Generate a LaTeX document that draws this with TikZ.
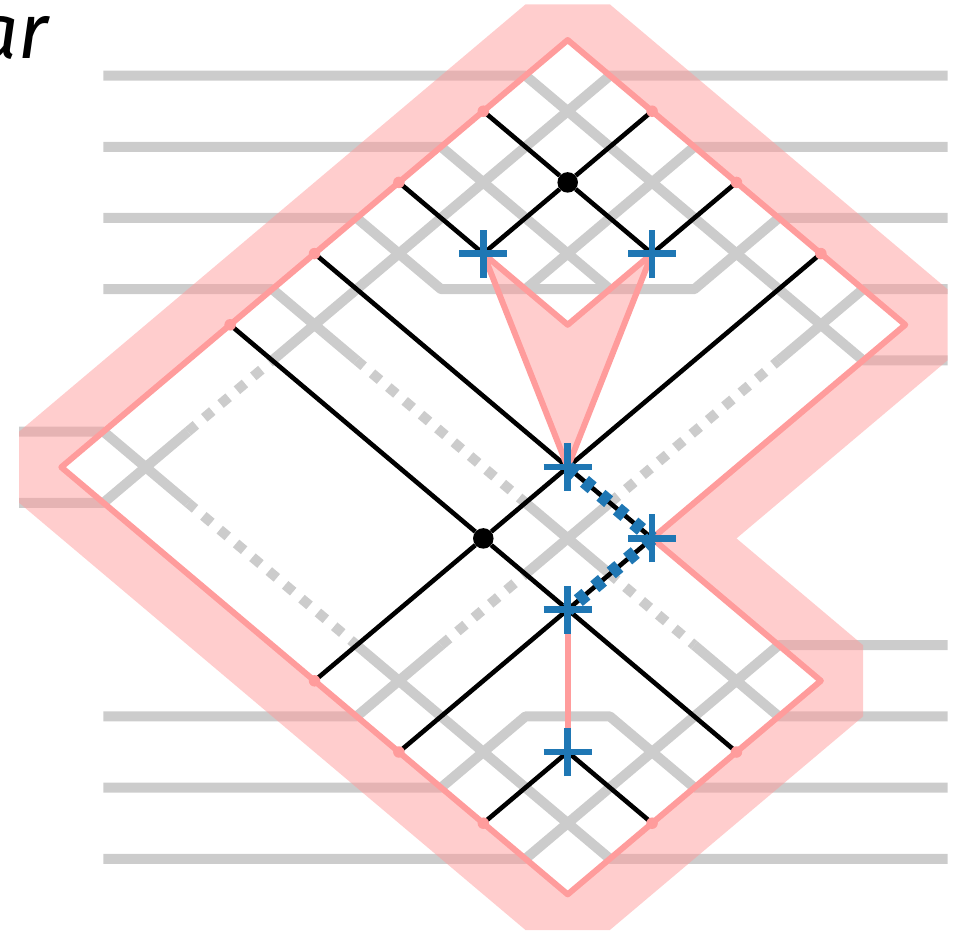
\documentclass[tikz,border=0pt]{standalone}
\usepackage{fontspec}
\setmainfont{Fira Sans}
\definecolor{wiregray}{HTML}{CCCCCC}
\definecolor{pinkline}{HTML}{FF9C9C}
\definecolor{bluemark}{HTML}{1F77B4}
\tikzset{
  wire/.style={draw=wiregray,line width=10pt,line join=round},
  wiredot/.style={draw=wiregray,line width=10pt,dash pattern=on 10.5pt off 10.9pt,dash phase=#1pt},
  halo/.style={fill=pinkline,fill opacity=.5,draw=none,even odd rule},
  pinkedge/.style={draw=pinkline,line width=6pt,line join=round},
  blackline/.style={draw=black,line width=4.6pt},
  bluedash/.style={draw=bluemark,line width=14pt,dash pattern=on 10pt off 11.5pt,dash phase=#1pt},
  blackdot/.style={circle,fill=black,inner sep=0pt,minimum size=20.5pt},
  pinkdot/.style={circle,fill=pinkline,inner sep=0pt,minimum size=11.5pt},
  blueplus/.style={draw=bluemark,line width=6.5pt},
}
\newcommand{\plusat}[1]{\draw[blueplus] ([xshift=-24pt]#1) -- ([xshift=24pt]#1) ([yshift=-24pt]#1) -- ([yshift=24pt]#1);}
\begin{document}
\begin{tikzpicture}[x=84.4pt,y=-71.2pt]
\useasboundingbox (-567.7pt,40pt) rectangle (394.3pt,-891pt);
% corners of the outline
\coordinate (T) at (0,0); \coordinate (R) at (4,4); \coordinate (N) at (1,7);
\coordinate (Q) at (3,9); \coordinate (B) at (0,12); \coordinate (L) at (-6,6);
% junctions
\coordinate (a1) at (-1,1); \coordinate (a2) at (1,1); \coordinate (a3) at (-2,2); \coordinate (a4) at (2,2);
\coordinate (a5) at (-3,3); \coordinate (a6) at (3,3); \coordinate (a7) at (-4,4);
\coordinate (b1) at (-3,9); \coordinate (b2) at (-2,10); \coordinate (b3) at (2,10);
\coordinate (b4) at (-1,11); \coordinate (b5) at (1,11);
\coordinate (p1) at (-1,3); \coordinate (p2) at (1,3); \coordinate (p3) at (0,6);
\coordinate (p4) at (0,8); \coordinate (p5) at (0,10); \coordinate (v) at (0,4);
% grey wires
\draw[wire] (-5.5,.5) -- (-.5,.5) -- (3.5,4.5) -- (4.5,4.5);
\draw[wire] (4.5,.5) -- (.5,.5) -- (-3.5,4.5);
\draw[wiredot=.05] (-4.5,5.5) -- (-3.5,4.5);
\draw[wire] (-4.5,5.5) -- (-5.5,6.5) -- (-6.5,6.5);
\draw[wire] (-5.5,1.5) -- (-1.5,1.5) -- (.5,3.5);
\draw[wire] (4.5,1.5) -- (1.5,1.5) -- (-.5,3.5);
\draw[wire] (-5.5,2.5) -- (-2.5,2.5) -- (-1.5,3.5) -- (1.5,3.5) -- (2.5,2.5) -- (4.5,2.5);
\draw[wire] (-5.5,3.5) -- (-3.5,3.5) -- (-2.5,4.5);
\draw[wiredot=2.25] (-.5,6.5) -- (-2.5,4.5);
\draw[wire] (-.5,6.5) -- (.5,7.5);
\draw[wiredot=1.05] (.5,7.5) -- (1.5,8.5);
\draw[wire] (1.5,8.5) -- (2.5,9.5) -- (4.5,9.5);
\draw[wire] (4.5,3.5) -- (3.5,3.5) -- (2.5,4.5);
\draw[wiredot=.01] (.5,6.5) -- (2.5,4.5);
\draw[wire] (.5,6.5) -- (-.5,7.5);
\draw[wiredot=7.05] (-.5,7.5) -- (-1.5,8.5);
\draw[wire] (-1.5,8.5) -- (-2.5,9.5) -- (-5.5,9.5);
\draw[wire] (-6.5,5.5) -- (-5.5,5.5) -- (-4.5,6.5);
\draw[wiredot=1.15] (-4.5,6.5) -- (-2.5,8.5);
\draw[wire] (-2.5,8.5) -- (.5,11.5) -- (4.5,11.5);
\draw[wire] (-5.5,11.5) -- (-.5,11.5) -- (2.5,8.5) -- (4.5,8.5);
\draw[wire] (-5.5,10.5) -- (-1.5,10.5) -- (-.5,9.5) -- (.5,9.5) -- (1.5,10.5) -- (4.5,10.5);
% halo band
\path[halo] (-6.5,5.5) -- (-.5,-.5) -- (.5,-.5) -- (4.5,3.5) -- (4.5,4.5) -- (2,7) -- (3.5,8.5) -- (3.5,9.5) -- (.5,12.5) -- (-.5,12.5) -- (-6.5,6.5) -- cycle
  (T) -- (R) -- (N) -- (Q) -- (B) -- (L) -- cycle;
\path[halo] (p1) -- (v) -- (p2) -- (p3) -- cycle;
% black lines
\node[blackdot] (d1) at (0,2) {};
\node[blackdot] (d2) at (-1,7) {};
\draw[blackline] (a1) -- (d1) -- (p2);
\draw[blackline] (a2) -- (d1) -- (p1);
\draw[blackline] (a3) -- (p1);
\draw[blackline] (a4) -- (p2);
\draw[blackline] (a5) -- (p3);
\draw[blackline] (a6) -- (p3);
\draw[blackline] (a7) -- (d2) -- (p4) -- (b3);
\draw[blackline] (p3) -- (d2) -- (b1);
\draw[blackline] (p4) -- (b2);
\draw[blackline] (p5) -- (b4);
\draw[blackline] (p5) -- (b5);
\draw[blackline] (p3) -- (N);
\draw[blackline] (p4) -- (N);
% pink outline
\draw[pinkedge] (T) -- (R) -- (N) -- (Q) -- (B) -- (L) -- cycle;
\draw[pinkedge] (p1) -- (v) -- (p2) -- (p3) -- cycle;
\draw[pinkedge] (p4) -- (p5);
\foreach \c [count=\k] in {a1,a2,a3,a4,a5,a6,a7,b1,b2,b3,b4,b5}
  \node[pinkdot] (e\k) at (\c) {};
% blue marks
\draw[bluedash=21] (p3) -- (N);
\draw[bluedash=21] (N) -- (p4);
\plusat{p1} \plusat{p2} \plusat{p3} \plusat{N} \plusat{p4} \plusat{p5}
% title fragment
\node[anchor=base east,font=\itshape\fontsize{78}{78}\selectfont,inner sep=0pt] (title) at (-519pt,-18.5pt) {ar};
\end{tikzpicture}
\end{document}
